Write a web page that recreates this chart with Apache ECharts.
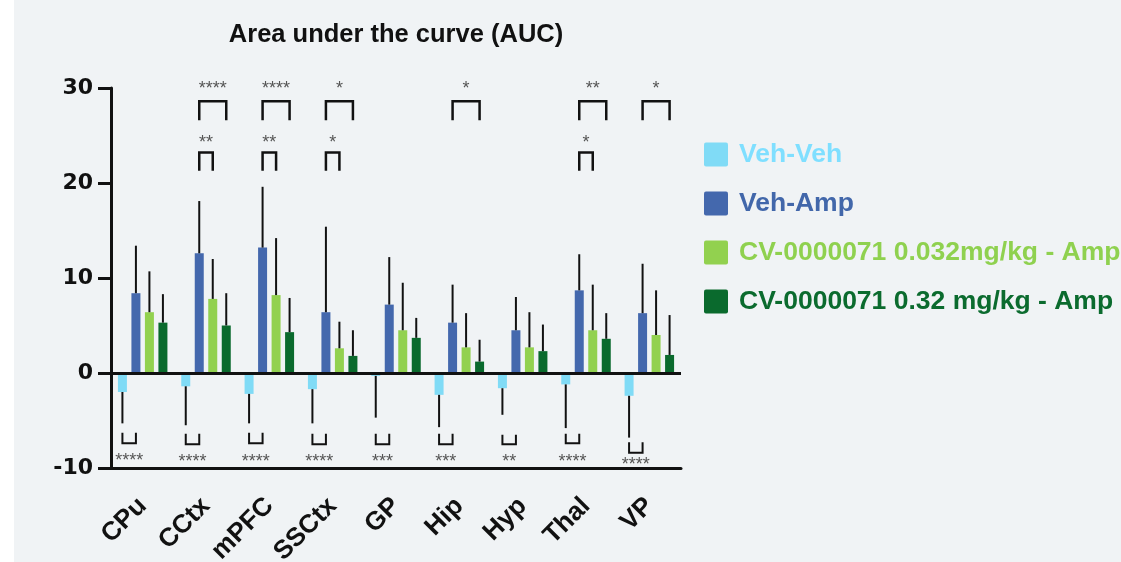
<!DOCTYPE html>
<html><head><meta charset="utf-8">
<script src="https://cdn.jsdelivr.net/npm/echarts@6/dist/echarts.min.js"></script>
<style>html,body{margin:0;padding:0;background:#f0f3f5}#c{width:1121px;height:562px}</style>
</head><body><div id="c"></div><script>
// ---- data ----
const categories = ['CPu','CCtx','mPFC','SSCtx','GP','Hip','Hyp','Thal','VP'];
const seriesNames = ['Veh-Veh','Veh-Amp','CV-0000071 0.032mg/kg - Amp','CV-0000071 0.32 mg/kg - Amp'];
const vehVeh     = [-2.0,-1.4,-2.2,-1.7,-0.3,-2.3,-1.6,-1.2,-2.4];
const vehVehSD   = [3.3, 4.1, 3.1, 3.6, 4.4, 3.4, 2.8, 4.6, 4.4];
const vehAmp     = [8.4,12.6,13.2, 6.4, 7.2, 5.3, 4.5, 8.7, 6.3];
const vehAmpSD   = [5.0, 5.5, 6.4, 9.0, 5.0, 4.0, 3.5, 3.8, 5.2];
const cvLow      = [6.4, 7.8, 8.2, 2.6, 4.5, 2.7, 2.7, 4.5, 4.0];
const cvLowSD    = [4.3, 4.2, 6.0, 2.8, 5.0, 3.6, 3.7, 4.8, 4.7];
const cvHigh     = [5.3, 5.0, 4.3, 1.8, 3.7, 1.2, 2.3, 3.6, 1.9];
const cvHighSD   = [3.0, 3.4, 3.6, 2.7, 2.1, 2.3, 2.8, 2.7, 4.2];
const yTicks = [-10, 0, 10, 20, 30];
// significance: [category index, stars]
const sigAmpVsHigh = [[1,'****'],[2,'****'],[3,'*'],[5,'*'],[7,'**'],[8,'*']];
const sigAmpVsLow  = [[1,'**'],[2,'**'],[3,'*'],[7,'*']];
const sigVehVsAmp  = [[0,'****'],[1,'****'],[2,'****'],[3,'****'],[4,'***'],[5,'***'],[6,'**'],[7,'****'],[8,'****']];
// bracket levels in axis units: [open end, closed end, stars]
const levelHigh = [26.6, 28.6, 30.3];
const levelLow  = [21.3, 23.2, 24.6];
const levelVeh  = [[-6.3,-7.4,-8.8],[-6.4,-7.5,-9.0],[-6.3,-7.4,-8.9],[-6.4,-7.5,-9.0],[-6.4,-7.5,-9.0],[-6.4,-7.5,-9.0],[-6.5,-7.5,-9.0],[-6.4,-7.4,-8.9],[-7.3,-8.4,-9.3]];

// ---- styles ----
const colors = ['#80dbf6','#4468ad','#92d14f','#0a6a2d'];
const legendTextColors = ['#7fdfff','#4267aa','#8fd14f','#0b6b2e'];
const BAR_W = 9, GAP = 4.5;
const off = i => (i - 1.5) * (BAR_W + GAP);
const ink = '#111';
const FONT = 'Liberation Sans, Arial, sans-serif';

const means = [vehVeh, vehAmp, cvLow, cvHigh];
const sds = [vehVehSD, vehAmpSD, cvLowSD, cvHighSD];

const errData = [];
means.forEach((arr, s) => arr.forEach((v, c) => errData.push([c, v, sds[s][c], s])));

function errItem(params, api) {
  const c = api.value(0), m = api.value(1), sd = api.value(2), s = api.value(3);
  const end = m < 0 ? m - sd : m + sd;
  const p0 = api.coord([c, m]), p1 = api.coord([c, end]);
  const x = p0[0] + off(s);
  return {type: 'line', shape: {x1: x, y1: p0[1], x2: x, y2: p1[1]},
          style: {stroke: ink, lineWidth: 2}};
}

function bracketSeries(list, a, b, levelFn, lw) {
  return {
    type: 'custom', silent: true, z: 5,
    data: list.map(d => [d[0]]),
    renderItem: function (params, api) {
      const c = api.value(0);
      const lv = levelFn(c);
      const cx = api.coord([c, 0])[0];
      const xa = cx + off(a), xb = cx + off(b);
      const yo = api.coord([c, lv[0]])[1], yc = api.coord([c, lv[1]])[1], yt = api.coord([c, lv[2]])[1];
      return {type: 'group', children: [
        {type: 'polyline', shape: {points: [[xa, yo],[xa, yc],[xb, yc],[xb, yo]]},
         style: {stroke: ink, lineWidth: lw, fill: null}},
        {type: 'text', style: {text: list[params.dataIndex][1], x: (xa + xb) / 2, y: yt + 4,
          align: 'center', verticalAlign: 'middle', textAlign: 'center', textVerticalAlign: 'middle',
          fill: '#555', fontSize: 18, fontFamily: FONT}}
      ]};
    }
  };
}

const chart = echarts.init(document.getElementById('c'), null, {renderer: 'canvas'});
const barSeries = means.map((arr, i) => ({
  name: seriesNames[i], type: 'bar', data: arr, barWidth: BAR_W, barGap: '50%',
  itemStyle: {color: colors[i]}, z: 2,
  markLine: i === 1 ? {silent: true, symbol: ['none','none'], label: {show: false},
    lineStyle: {color: ink, width: 3, type: 'solid'}, data: [{yAxis: 0}]} : undefined
}));

chart.setOption({
  animation: false,
  backgroundColor: '#f0f3f5',
  graphic: [
    {type: 'rect', left: 0, top: 0, shape: {width: 14, height: 562}, style: {fill: '#ffffff'}},
    {type: 'text', x: 396, y: 35, style: {text: 'Area under the curve (AUC)', align: 'center', verticalAlign: 'middle',
      fill: '#111', fontSize: 25.5, fontWeight: 'bold', fontFamily: FONT}}
  ],
  legend: {
    orient: 'vertical', left: 704, top: 141, padding: 0, itemWidth: 24, itemHeight: 24, itemGap: 22,
    icon: 'path://M2,0 L22,0 Q24,0 24,2 L24,22 Q24,24 22,24 L2,24 Q0,24 0,22 L0,2 Q0,0 2,0 Z',
    data: seriesNames.map((n, i) => ({name: n, textStyle: {color: legendTextColors[i]}})),
    textStyle: {fontSize: 26.5, fontWeight: 'bold', fontFamily: FONT, padding: [0,0,0,6]}
  },
  grid: {left: 111, top: 88, width: 570, height: 380, containLabel: false, outerBoundsMode: 'none'},
  xAxis: {
    type: 'category', data: categories,
    axisLine: {onZero: false, lineStyle: {color: ink, width: 3}},
    axisTick: {alignWithLabel: true, length: 14, lineStyle: {color: ink, width: 3}},
    axisLabel: {interval: 0, rotate: 45, margin: 34, color: ink, fontSize: 26, fontWeight: 'bold',
      fontFamily: FONT}
  },
  yAxis: {
    type: 'value', min: yTicks[0], max: yTicks[yTicks.length - 1], interval: 10,
    axisLine: {show: true, lineStyle: {color: ink, width: 3}},
    axisTick: {show: true, length: 13, lineStyle: {color: ink, width: 3}},
    axisLabel: {margin: 18, color: ink, fontSize: 22, fontWeight: 'bold', fontFamily: 'DejaVu Sans, sans-serif'},
    splitLine: {show: false}
  },
  series: barSeries.concat([
    {type: 'custom', silent: true, z: 4, data: errData, renderItem: errItem},
    bracketSeries(sigAmpVsHigh, 1, 3, () => levelHigh, 2.5),
    bracketSeries(sigAmpVsLow, 1, 2, () => levelLow, 2.5),
    bracketSeries(sigVehVsAmp, 0, 1, c => levelVeh[c], 2)
  ])
});
</script></body></html>
